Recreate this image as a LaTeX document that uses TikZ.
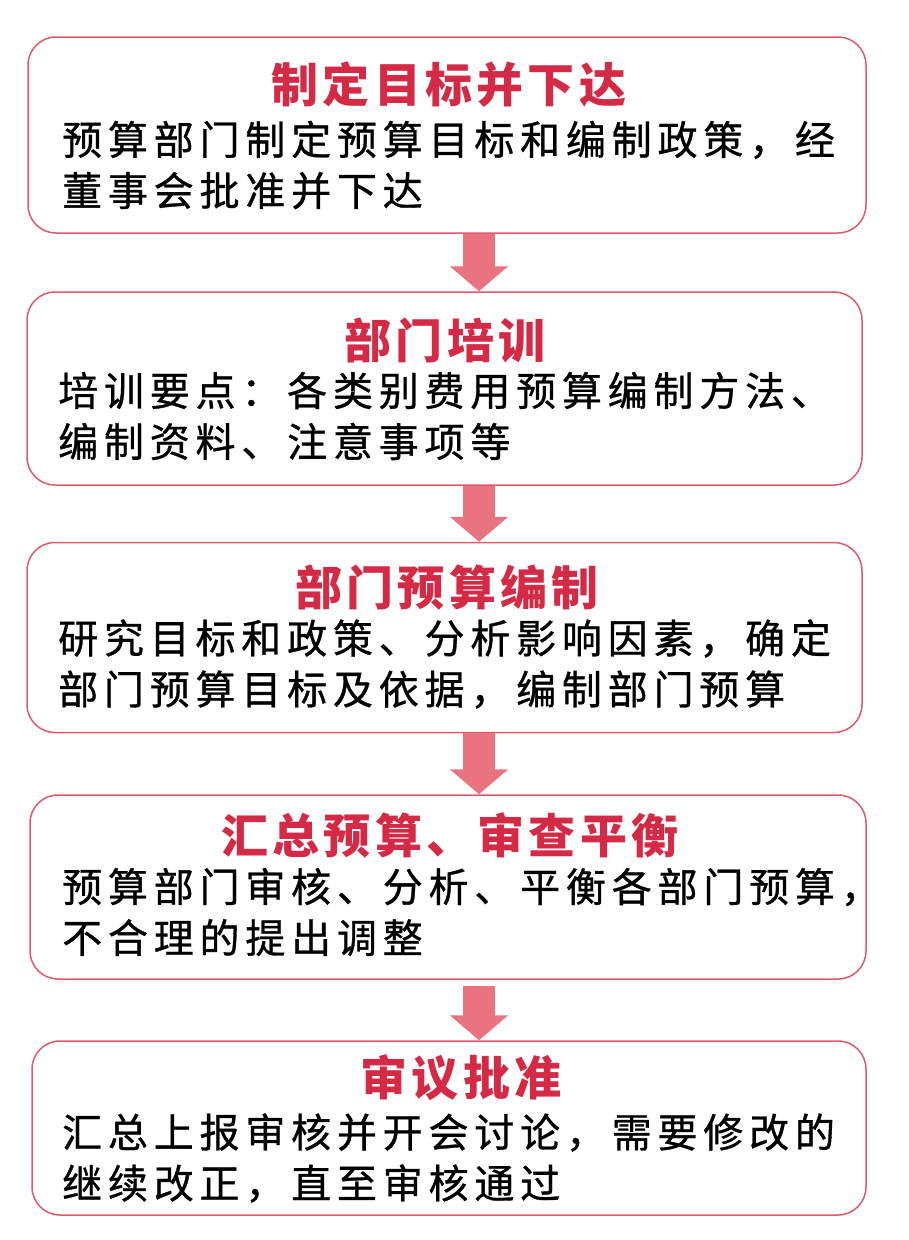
\documentclass[tikz,border=0pt]{standalone}
\usepackage{fontspec}
\usetikzlibrary{arrows.meta}
\newfontfamily\cjk[LetterSpace=14.5,FakeBold=0.8]{Noto Sans CJK SC}
\newfontfamily\cjktitle[LetterSpace=9]{Noto Sans CJK SC}
\definecolor{stageline}{HTML}{DD5A6B}
\definecolor{stagetitle}{HTML}{D42A45}
\definecolor{arrowpink}{HTML}{E9737F}
\tikzstyle{stage} = [draw=stageline,line width=1.5pt,rounded corners=28pt,fill=white,rectangle,inner sep=0pt]
\tikzstyle{title} = [text=stagetitle,font=\cjktitle\bfseries\fontsize{47}{47}\selectfont,inner sep=0pt]
\tikzstyle{body} = [anchor=west,align=left,font=\cjk\fontsize{40}{51}\selectfont,inner sep=0pt]
\tikzstyle{arrow} = [draw=arrowpink,line width=32pt,-{Triangle[width=57pt,length=25pt,fill=arrowpink]}]
\begin{document}
\begin{tikzpicture}[x=1pt,y=-1pt]
    \useasboundingbox[fill=white] (0,0) rectangle (908,1240);
    \node[stage,minimum width=838pt,minimum height=196pt] (plan) at (447,135) {};
    \node[stage,minimum width=835pt,minimum height=193pt] (train) at (444.5,388.5) {};
    \node[stage,minimum width=835pt,minimum height=190pt] (compile) at (444.5,637.5) {};
    \node[stage,minimum width=836pt,minimum height=184pt] (review) at (448,887) {};
    \node[stage,minimum width=834pt,minimum height=174pt] (approve) at (449,1128) {};

    \node[title] (planTitle) at (449,85) {制定目标并下达};
    \node[body] (planText) at (62,165) {预算部门制定预算目标和编制政策，经\\董事会批准并下达};

    \node[title] (trainTitle) at (445,340) {部门培训};
    \node[body] (trainText) at (58,416) {培训要点：各类别费用预算编制方法、\\编制资料、注意事项等};

    \node[title] (compileTitle) at (447,588) {部门预算编制};
    \node[body] (compileText) at (58,664) {研究目标和政策、分析影响因素，确定\\部门预算目标及依据，编制部门预算};

    \node[title] (reviewTitle) at (450,835) {汇总预算、审查平衡};
    \node[body] (reviewText) at (62,912) {预算部门审核、分析、平衡各部门预算，\\不合理的提出调整};

    \node[title] (approveTitle) at (461,1078) {审议批准};
    \node[body] (approveText) at (62,1158) {汇总上报审核并开会讨论，需要修改的\\继续改正，直至审核通过};

    \draw[arrow] ([xshift=32pt]plan.south) -- ([xshift=32pt]plan.south |- train.north);
    \draw[arrow] ([xshift=34.5pt]train.south) -- ([xshift=34.5pt]train.south |- compile.north);
    \draw[arrow] ([xshift=34.5pt]compile.south) -- ([xshift=34.5pt]compile.south |- review.north);
    \draw[arrow] ([xshift=31pt,yshift=-6pt]review.south) -- ([xshift=31pt]review.south |- approve.north);
\end{tikzpicture}
\end{document}
